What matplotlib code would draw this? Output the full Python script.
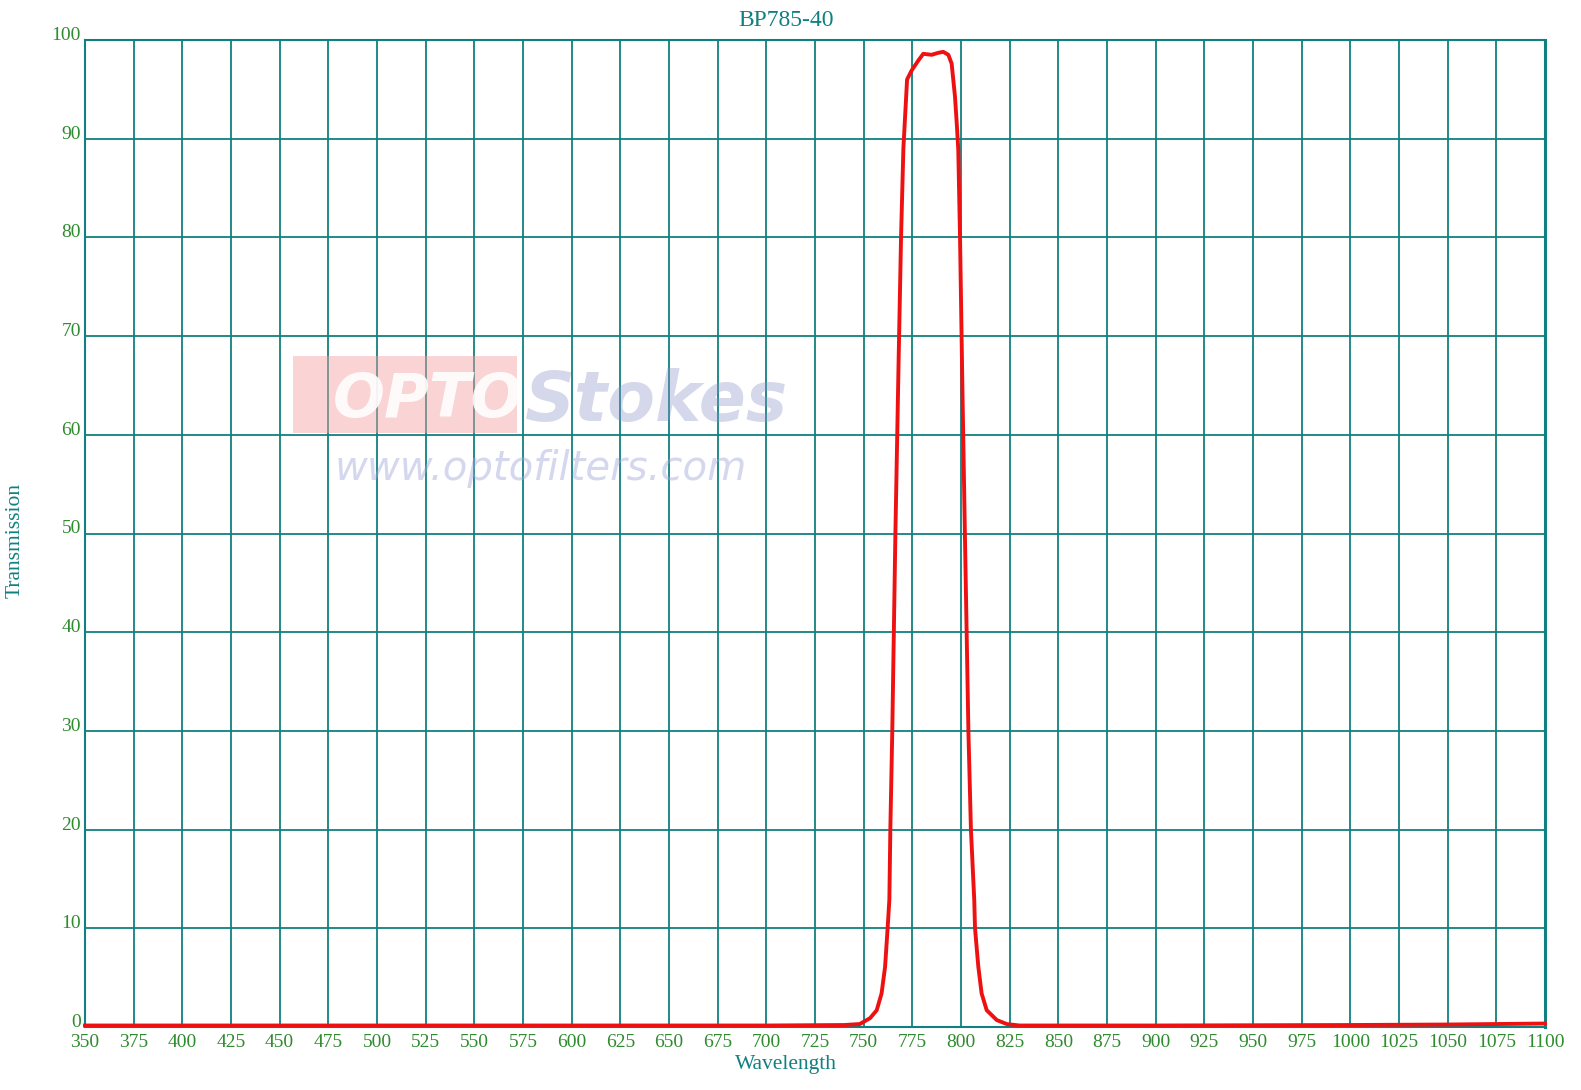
import matplotlib
matplotlib.use("Agg")
import matplotlib.pyplot as plt
from matplotlib.patches import Rectangle

wavelength = [350, 500, 650, 700, 740, 748, 753.3, 756.7, 759.2, 761.0, 762.3, 763.2, 763.7,
              764.7, 766.3, 768.0, 769.2, 770.4, 772.3, 774.6, 778.0, 780.6, 784.9, 788.3,
              790.9, 793.5, 795.2, 796.9, 797.8, 798.6, 799.5, 800.7, 802.0, 803.8, 805.1,
              806.8, 807.2, 808.9, 810.6, 813.2, 818.4, 823.5, 830, 900, 1000, 1050, 1075, 1100]
transmission = [0.15, 0.15, 0.15, 0.15, 0.2, 0.3, 0.9, 1.7, 3.4, 6.1, 10.0, 12.9, 20.0,
                30.0, 50.0, 68.0, 80.0, 89.0, 96.0, 96.9, 97.9, 98.6, 98.5, 98.7,
                98.8, 98.5, 97.6, 94.3, 91.6, 88.9, 80.0, 65.0, 50.0, 30.0, 20.0,
                12.9, 10.0, 6.1, 3.4, 1.7, 0.7, 0.3, 0.15, 0.15, 0.2, 0.25, 0.3, 0.35]

x_ticks = list(range(350, 1101, 25))
y_ticks = list(range(0, 101, 10))

teal = "#108080"
green = "#2e8b2e"

plt.rcParams['font.family'] = ['Liberation Serif', 'DejaVu Serif']

fig = plt.figure(figsize=(15.81, 10.90), dpi=100)
W, H = 1581, 1090
left, right, top, bottom = 85, 1545, 40, 1027
ax = fig.add_axes([left / W, 1 - bottom / H, (right - left) / W, (bottom - top) / H])

ax.set_xlim(350, 1100)
ax.set_ylim(0, 100)
ax.set_xticks(x_ticks)
ax.set_yticks(y_ticks)
ax.set_xticklabels([str(v) for v in x_ticks], color=green, fontsize=14)
ax.set_yticklabels([str(v) for v in y_ticks], color=green, fontsize=14)
for lab in ax.get_yticklabels():
    lab.set_verticalalignment('baseline')
ax.tick_params(axis='both', length=0)
ax.tick_params(axis='x', pad=5)
ax.tick_params(axis='y', pad=3)
ax.grid(True, color=teal, linewidth=1.3)
ax.set_axisbelow(True)
for s in ax.spines.values():
    s.set_color(teal)
    s.set_linewidth(1.5)
ax.spines['right'].set_linewidth(2.2)

# watermark
fig.add_artist(Rectangle((293 / W, 1 - 433 / H), 224 / W, 77 / H, transform=fig.transFigure,
                         facecolor='#f4a0a0', edgecolor='none', alpha=0.45, zorder=0.5))
fig.text(333 / W, 1 - 401 / H, "OPTO", fontsize=44, fontstyle='italic', fontweight='bold',
         color='white', alpha=0.9, family=['DejaVu Sans'], va='center', zorder=0.6)
fig.text(525 / W, 1 - 401 / H, "Stokes", fontsize=50, fontstyle='italic', fontweight='bold',
         color='#8890c8', alpha=0.35, family=['DejaVu Sans'], va='center', zorder=0.6)
fig.text(335 / W, 1 - 468 / H, "www.optofilters.com", fontsize=29, fontstyle='italic',
         color='#a0a8d8', alpha=0.45, family=['DejaVu Sans'], va='center', zorder=0.6)
ax.patch.set_alpha(0)

ax.plot(wavelength, transmission, color='#ee1111', linewidth=2.8, clip_on=False, zorder=3)

fig.text(786 / W, 1 - 21 / H, "BP785-40", color=teal, fontsize=17, ha='center', va='center')
fig.text(786 / W, 1 - 1064 / H, "Wavelength", color=teal, fontsize=15.5, ha='center', va='center')
fig.text(15 / W, 1 - 540 / H, "Transmission", color=teal, fontsize=15.5, ha='center',
         va='center', rotation=90)

fig.savefig("out.png", dpi=100, facecolor='white')
